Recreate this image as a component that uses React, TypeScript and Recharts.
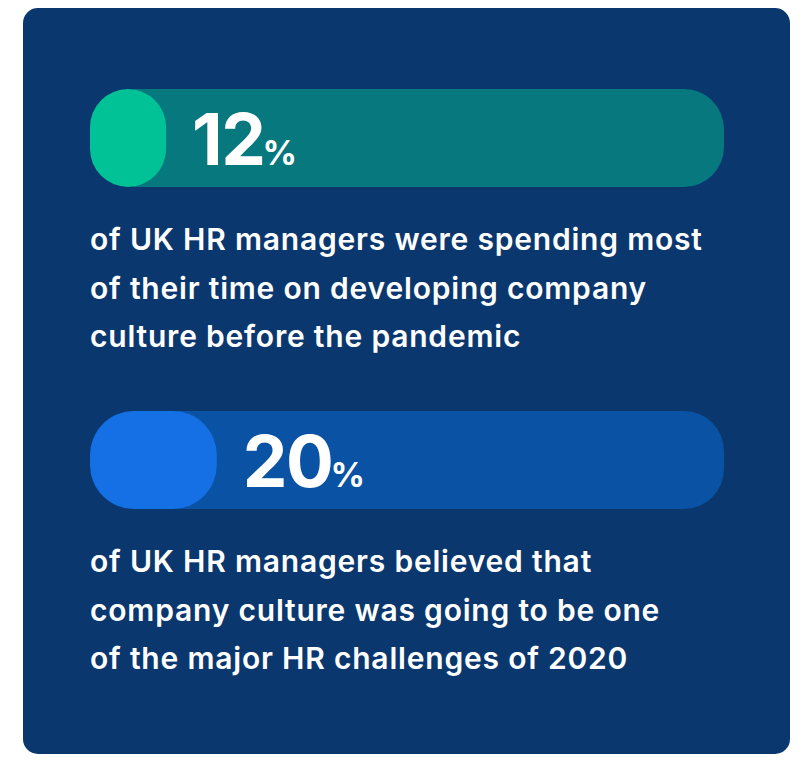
import React from 'react';
import { BarChart, Bar, XAxis, YAxis, Cell, LabelList, Rectangle } from 'recharts';

const categories = ['Culture focus before pandemic', 'Culture as 2020 challenge'];
const percentValues = [12, 20];
const descriptionLines = [
  ['of UK HR managers were spending most', 'of their time on developing company', 'culture before the pandemic'],
  ['of UK HR managers believed that', 'company culture was going to be one', 'of the major HR challenges of 2020'],
];
const fillColors = ['#00c296', '#1470e4'];
const trackColors = ['#07787e', '#0a52a3'];

const data = categories.map((name, i) => ({ name, value: percentValues[i] }));

const FONT = 'Inter, "Open Sans", sans-serif';

const TrackBackground = (p: any) => (
  <Rectangle
    x={p.x}
    y={p.y}
    width={p.width}
    height={p.height}
    radius={[49, 40, 40, 49]}
    fill={trackColors[p.index] ?? trackColors[0]}
  />
);

const ValueLabel = (p: any) => {
  const x = Number(p.x) + Number(p.width) + 26;
  const y = Number(p.y) + 76;
  return (
    <text x={x} y={y} fill="#ffffff" fontFamily={FONT} fontWeight={700}>
      <tspan fontSize={71} letterSpacing={-1.5}>{p.value}</tspan>
      <tspan fontSize={34} dx={-2}>%</tspan>
    </text>
  );
};

const DescriptionLabel = (p: any) => {
  const lines = descriptionLines[p.index] || [];
  const x = Number(p.x);
  const y0 = Number(p.y) + Number(p.height) + 63;
  return (
    <text fill="#ffffff" fontFamily={FONT} fontWeight={600} fontSize={30} letterSpacing={0.8}>
      {lines.map((line, k) => (
        <tspan key={k} x={x} y={y0 + k * 48.5}>
          {line}
        </tspan>
      ))}
    </text>
  );
};

export default function App() {
  return (
    <div style={{ position: 'absolute', left: 0, top: 0, width: 804, height: 766, background: '#ffffff' }}>
      <div
        style={{
          position: 'absolute',
          left: 23,
          top: 8,
          width: 767,
          height: 746,
          borderRadius: 15,
          background: '#0b376f',
        }}
      />
      <div style={{ position: 'absolute', left: 0, top: 0 }}>
        <BarChart
          width={804}
          height={766}
          data={data}
          layout="vertical"
          margin={{ top: -23, right: 80, bottom: 145, left: 90 }}
          barSize={98}
        >
          <XAxis type="number" domain={[0, 100]} hide />
          <YAxis type="category" dataKey="name" hide />
          <Bar dataKey="value" isAnimationActive={false} radius={44} background={TrackBackground}>
            {data.map((d, i) => (
              <Cell key={d.name} fill={fillColors[i]} />
            ))}
            <LabelList dataKey="value" content={ValueLabel} />
            <LabelList dataKey="name" content={DescriptionLabel} />
          </Bar>
        </BarChart>
      </div>
    </div>
  );
}
